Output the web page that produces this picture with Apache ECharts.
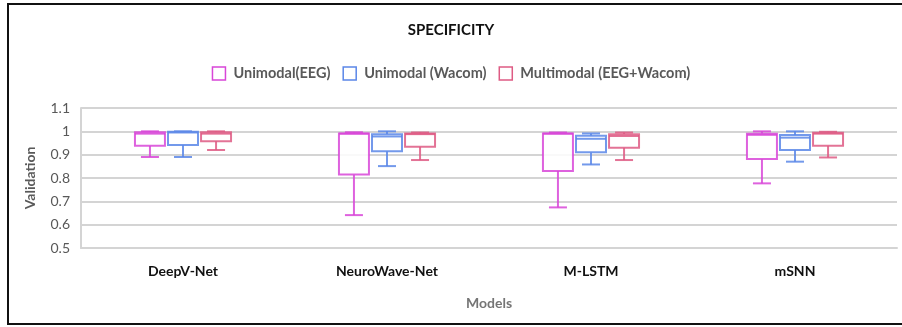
<!DOCTYPE html>
<html>
<head>
<meta charset="utf-8">
<script src="https://cdn.jsdelivr.net/npm/echarts@6/dist/echarts.min.js"></script>
<style>
  html, body { margin: 0; padding: 0; background: #fff; }
  #wrap { position: relative; width: 902px; height: 327px; overflow: hidden; }
  #frame { position: absolute; left: 7px; top: 3px; width: 920px; height: 322px;
           border: 2px solid #111; border-right: none; box-sizing: border-box; }
  #chart { position: absolute; left: 0; top: 0; width: 902px; height: 327px; }
</style>
</head>
<body>
<div id="wrap">
  <div id="frame"></div>
  <div id="chart"></div>
</div>
<script>
// Models on the x axis
const categories = ['DeepV-Net', 'NeuroWave-Net', 'M-LSTM', 'mSNN'];
const seriesNames = ['Unimodal(EEG)', 'Unimodal (Wacom)', 'Multimodal (EEG+Wacom)'];

// Box statistics per model: [min, Q1, median, Q3, max]
const eegStats = [
  [0.890, 0.938, 0.990, 0.996, 1.000],
  [0.641, 0.815, 0.990, 0.991, 0.996],
  [0.674, 0.830, 0.990, 0.991, 0.995],
  [0.777, 0.881, 0.985, 0.990, 1.000]
];
const wacomStats = [
  [0.890, 0.941, 0.995, 0.998, 1.000],
  [0.851, 0.915, 0.978, 0.987, 1.000],
  [0.858, 0.910, 0.968, 0.981, 0.991],
  [0.870, 0.920, 0.973, 0.984, 1.000]
];
const multiStats = [
  [0.920, 0.958, 0.990, 0.996, 1.000],
  [0.877, 0.934, 0.988, 0.991, 0.995],
  [0.877, 0.930, 0.980, 0.988, 0.995],
  [0.888, 0.938, 0.990, 0.994, 0.998]
];

// Y axis ticks
const yMin = 0.5, yMax = 1.1, yStep = 0.1;

const colors = ['#d846d8', '#5b87e8', '#de5b84'];
const allStats = [eegStats, wacomStats, multiStats];

const FONT = 'Lato, "Open Sans", sans-serif';

// Draws one box-and-whisker glyph, shifted sideways by series slot
function renderBox(params, api) {
  const slot = params.seriesIndex - 1;           // -1, 0, +1
  const band = api.size([1, 0])[0];
  const step = band * 0.162;
  const boxW = band * 0.147;
  const capW = boxW * 0.3;
  const idx = api.value(0);
  const cx = api.coord([idx, yMin])[0] + slot * step;
  const y = k => api.coord([idx, api.value(k)])[1];
  const yMinP = y(1), yQ1 = y(2), yMed = y(3), yQ3 = y(4), yMaxP = y(5);
  const color = colors[params.seriesIndex];
  const lineStyle = { stroke: color, lineWidth: 2, fill: null, opacity: 0.85 };
  const seg = (x1, y1, x2, y2) => ({ type: 'line', shape: { x1, y1, x2, y2 }, style: lineStyle });
  return {
    type: 'group',
    children: [
      seg(cx, yMinP, cx, yQ1),
      seg(cx, yQ3, cx, yMaxP),
      seg(cx - capW, yMinP, cx + capW, yMinP),
      seg(cx - capW, yMaxP, cx + capW, yMaxP),
      { type: 'rect', shape: { x: cx - boxW / 2, y: yQ3, width: boxW, height: yQ1 - yQ3 },
        style: { stroke: color, lineWidth: 2, fill: '#fff', opacity: 0.85 } },
      seg(cx - boxW / 2, yMed, cx + boxW / 2, yMed)
    ]
  };
}

const series = allStats.map((stats, s) => ({
  name: seriesNames[s],
  type: 'custom',
  renderItem: renderBox,
  itemStyle: { color: colors[s] },
  encode: { x: 0, y: [1, 2, 3, 4, 5] },
  data: stats.map((st, i) => [i].concat(st))
}));

const chart = echarts.init(document.getElementById('chart'), null, { renderer: 'canvas' });
chart.setOption({
  animation: false,
  backgroundColor: 'transparent',
  title: {
    text: 'SPECIFICITY',
    left: 'center',
    top: 18,
    textStyle: { fontFamily: FONT, fontWeight: 'bold', fontSize: 15, color: '#111' }
  },
  legend: {
    top: 61,
    left: 'center',
    itemWidth: 13,
    itemHeight: 13,
    itemGap: 12,
    icon: 'rect',
    textStyle: { fontFamily: FONT, fontWeight: 'bold', fontSize: 14.5, color: '#595959', padding: [0, 0, 0, 3] },
    data: seriesNames.map((n, s) => ({
      name: n,
      itemStyle: { color: '#fff', borderColor: colors[s], borderWidth: 1.5 }
    }))
  },
  grid: { left: 81, right: 5, top: 108, bottom: 79 },
  xAxis: {
    type: 'category',
    data: categories,
    name: 'Models',
    nameLocation: 'middle',
    nameGap: 48,
    nameTextStyle: { fontFamily: FONT, fontWeight: 'bold', fontSize: 14, color: '#757575' },
    axisLine: { show: true, lineStyle: { color: '#d4d4d4', width: 2 } },
    axisTick: { show: false },
    axisLabel: { fontFamily: FONT, fontWeight: 'bold', fontSize: 14, color: '#111', margin: 16 },
    splitLine: { show: false }
  },
  yAxis: {
    type: 'value',
    min: yMin,
    max: yMax,
    interval: yStep,
    name: 'Validation',
    nameLocation: 'middle',
    nameRotate: 90,
    nameGap: 44,
    nameTextStyle: { fontFamily: FONT, fontWeight: 'bold', fontSize: 14, color: '#595959' },
    axisLine: { show: true, lineStyle: { color: '#d4d4d4', width: 2 } },
    axisTick: { show: false },
    axisLabel: {
      fontFamily: FONT, fontSize: 14, color: '#595959', margin: 11,
      formatter: v => String(parseFloat(v.toFixed(1)))
    },
    splitLine: { lineStyle: { color: '#d4d4d4', width: 2 } }
  },
  series: series
});
</script>
</body>
</html>
